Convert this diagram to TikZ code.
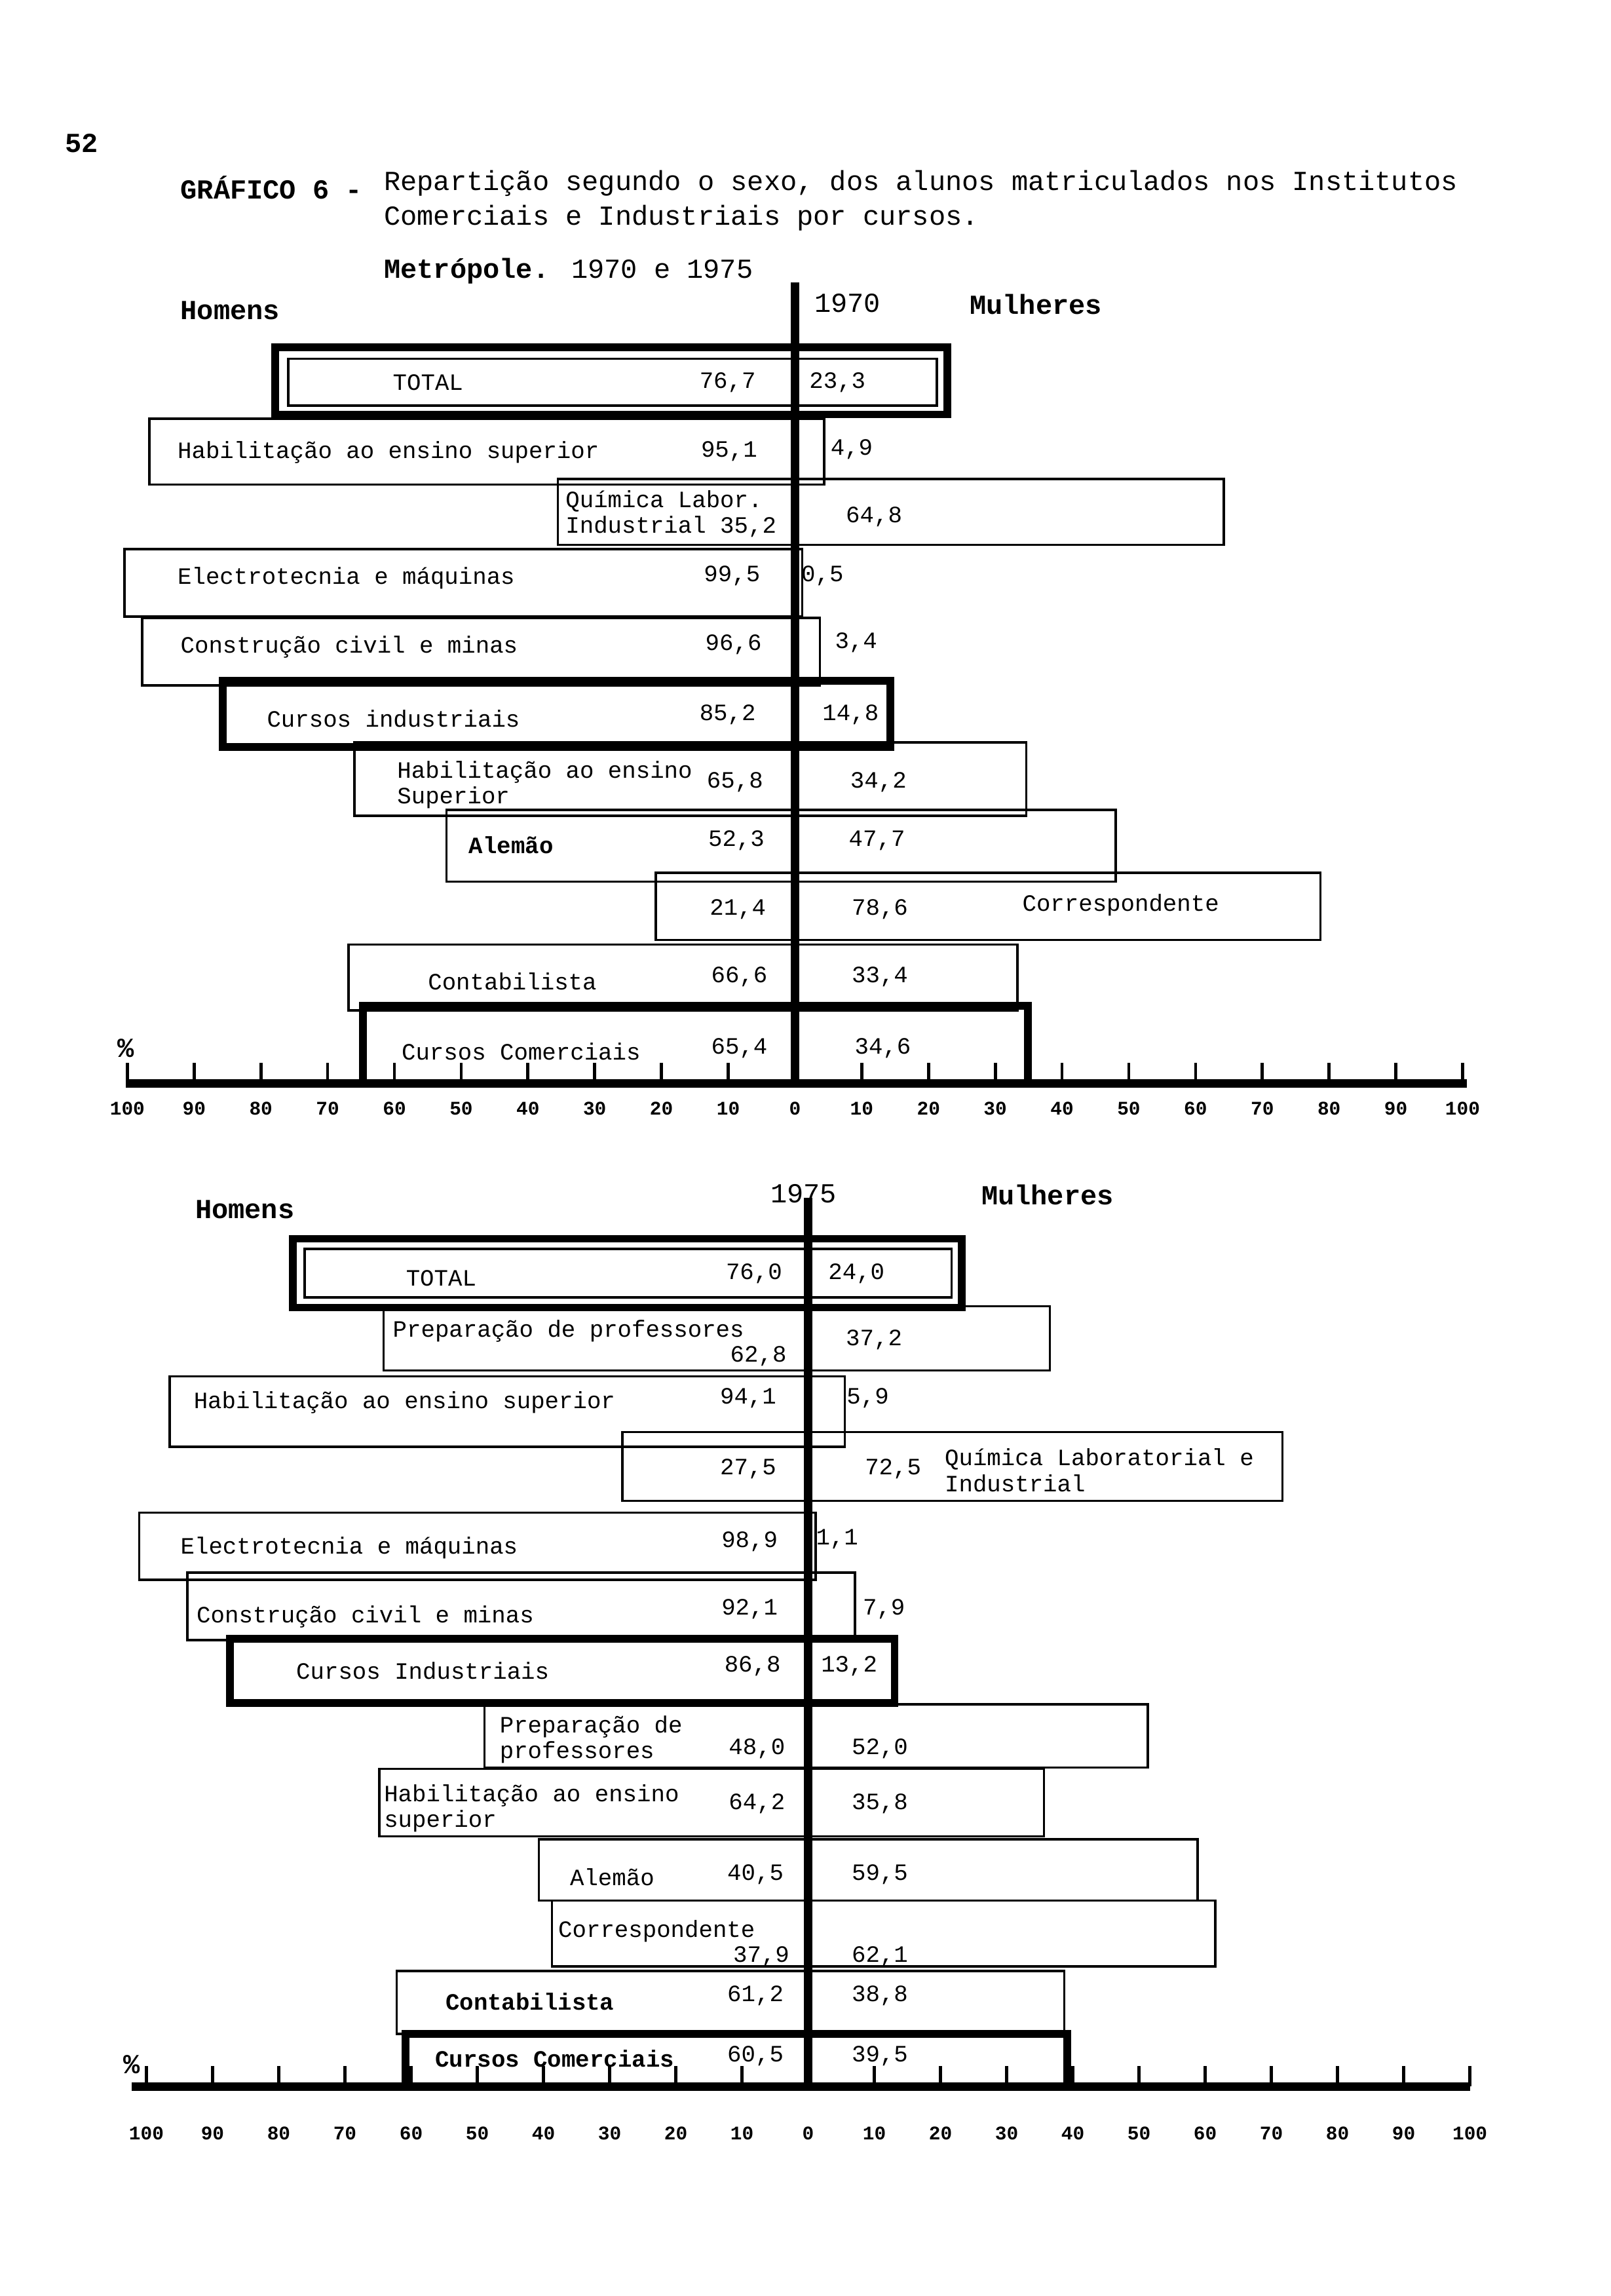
\documentclass[tikz,border=0pt]{standalone}
\usepackage{fontspec}
\setmainfont{Liberation Mono}
\begin{document}
\begin{tikzpicture}[x=0.02cm,y=-0.02cm,
  lbl/.style={font=\fontsize{9.1}{10}\selectfont,inner sep=0pt,anchor=west,align=left},
  val/.style={font=\fontsize{9.1}{10}\selectfont,inner sep=0pt},
  ttl/.style={font=\fontsize{10.7}{12}\selectfont,inner sep=0pt,anchor=west},
  hdr/.style={font=\bfseries\fontsize{10.7}{12}\selectfont,inner sep=0pt,anchor=west},
  bx/.style={draw,line width=0.9pt},
  tbx/.style={draw,line width=3pt},
  ax/.style={line width=3.4pt},
  tick/.style={line width=1.2pt},
  num/.style={font=\bfseries\fontsize{7.5}{8}\selectfont,inner sep=0pt}]
\useasboundingbox (0,0) rectangle (1100,1568);
\fill[white] (0,0) rectangle (1100,1568);
% header
\node[hdr] (pg) at (44,98) {52};
\node[hdr] (g6) at (123,128) {GRÁFICO 6 -};
\node[ttl] (t1) at (262,125) {Repartição segundo o sexo, dos alunos matriculados nos Institutos};
\node[ttl] (t2) at (262,149) {Comerciais e Industriais por cursos.};
\node[ttl] (t3) at (262,185) {\textbf{Metrópole.} 1970 e 1975};
% ===== 1970 =====
\node[hdr] (h1) at (123,212) {Homens};
\node[ttl] (y1) at (556,207) {1970};
\node[hdr] (m1) at (662,208) {Mulheres};
\foreach \xl/\xr/\yt/\yb/\st in {102/563/286/331/bx,381/836/327/372/bx,85/548/375/421/bx,97/560/422/468/bx,242/701/507/557/bx,305/762/553/602/bx,448/902/596/642/bx,238/695/645/690/bx}
  \draw[\st] (\xl,\yt) rectangle (\xr,\yb);
\draw[tbx] (188,237) rectangle (647,283);
\draw[bx] (197,245) rectangle (640,277);
\draw[tbx] (152,465) rectangle (608,510);
\draw[tbx] (248,687) rectangle (702,740);
\draw[ax] (543,193) -- (543,740);
\draw[ax] (86,740) -- (1002,740);
\foreach \i in {-10,...,10} {
  \ifnum\i=0\else
  \draw[tick] ({543+45.6*\i},740) -- ({543+45.6*\i},726);\fi
}
\foreach \v [count=\k from 0] in {100,90,80,70,60,50,40,30,20,10,0,10,20,30,40,50,60,70,80,90,100}
  \node[num] (a\k) at ({543+45.6*(\k-10)},757) {\v};
\node[hdr] (pc1) at (80,716) {\%};
% labels 1970
\node[lbl] (l1) at (268,261) {TOTAL};
\node[val] (v1a) at (497,261) {76,7};
\node[val] (v1b) at (572,261) {23,3};
\node[lbl] (l2) at (121,309) {Habilitação ao ensino superior};
\node[val] (v2a) at (498,308) {95,1};
\node[lbl] (v2b) at (567,307) {4,9};
\node[lbl] (l3) at (386,351) {Química Labor.\\Industrial 35,2};
\node[val] (v3b) at (597,353) {64,8};
\node[lbl] (l4) at (121,395) {Electrotecnia e máquinas};
\node[val] (v4a) at (500,393) {99,5};
\node[lbl] (v4b) at (547,393) {0,5};
\node[lbl] (l5) at (123,442) {Construção civil e minas};
\node[val] (v5a) at (501,440) {96,6};
\node[lbl] (v5b) at (570,439) {3,4};
\node[lbl] (l6) at (182,491) {Cursos industriais};
\node[val] (v6a) at (497,488) {85,2};
\node[val] (v6b) at (581,488) {14,8};
\node[lbl] (l7) at (271,536) {Habilitação ao ensino\\Superior};
\node[val] (v7a) at (502,534) {65,8};
\node[val] (v7b) at (600,534) {34,2};
\node[lbl] (l8) at (320,577) {\textbf{Alemão}};
\node[val] (v8a) at (503,574) {52,3};
\node[val] (v8b) at (599,574) {47,7};
\node[val] (v9a) at (504,621) {21,4};
\node[val] (v9b) at (601,621) {78,6};
\node[lbl] (l9) at (698,618) {Correspondente};
\node[lbl] (l10) at (292,670) {Contabilista};
\node[val] (v10a) at (505,667) {66,6};
\node[val] (v10b) at (601,667) {33,4};
\node[lbl] (l11) at (274,718) {Cursos Comerciais};
\node[val] (v11a) at (505,716) {65,4};
\node[val] (v11b) at (603,716) {34,6};
% ===== 1975 =====
\node[hdr] (h2) at (133,826) {Homens};
\node[ttl] (y2) at (526,815) {1975};
\node[hdr] (m2) at (670,816) {Mulheres};
\foreach \xl/\xr/\yt/\yb in {262/717/892/936,116/577/940/988,425/876/978/1025,95/557/1033/1079,128/584/1074/1120,331/784/1164/1207,259/713/1208/1254,368/818/1256/1298,377/830/1298/1343,271/727/1346/1389}
  \draw[bx] (\xl,\yt) rectangle (\xr,\yb);
\draw[tbx] (200,846) rectangle (657,893);
\draw[bx] (208,853) rectangle (650,886);
\draw[tbx] (157,1119) rectangle (611,1163);
\draw[tbx] (277,1389) rectangle (729,1425);
\draw[ax] (552,818) -- (552,1425);
\draw[ax] (90,1425) -- (1004,1425);
\foreach \i in {-10,...,10} {
  \ifnum\i=0\else
  \draw[tick] ({552+45.2*\i},1425) -- ({552+45.2*\i},1411);\fi
}
\foreach \v [count=\k from 0] in {100,90,80,70,60,50,40,30,20,10,0,10,20,30,40,50,60,70,80,90,100}
  \node[num] (b\k) at ({552+45.2*(\k-10)},1457) {\v};
\node[hdr] (pc2) at (84,1410) {\%};
% labels 1975
\node[lbl] (k1) at (277,873) {TOTAL};
\node[val] (w1a) at (515,870) {76,0};
\node[val] (w1b) at (585,870) {24,0};
\node[lbl] (k2) at (268,909) {Preparação de professores};
\node[val] (w2a) at (518,926) {62,8};
\node[val] (w2b) at (597,915) {37,2};
\node[lbl] (k3) at (132,958) {Habilitação ao ensino superior};
\node[val] (w3a) at (511,955) {94,1};
\node[lbl] (w3b) at (578,955) {5,9};
\node[val] (w4a) at (511,1003) {27,5};
\node[val] (w4b) at (610,1003) {72,5};
\node[lbl] (k4) at (645,1004) {Química Laboratorial e\\Industrial};
\node[lbl] (k5) at (123,1057) {Electrotecnia e máquinas};
\node[val] (w5a) at (512,1053) {98,9};
\node[lbl] (w5b) at (557,1051) {1,1};
\node[lbl] (k6) at (134,1104) {Construção civil e minas};
\node[val] (w6a) at (512,1099) {92,1};
\node[lbl] (w6b) at (589,1099) {7,9};
\node[lbl] (k7) at (202,1141) {Cursos Industriais};
\node[val] (w7a) at (514,1138) {86,8};
\node[val] (w7b) at (580,1138) {13,2};
\node[lbl] (k8) at (341,1188) {Preparação de\\professores};
\node[val] (w8a) at (517,1194) {48,0};
\node[val] (w8b) at (601,1194) {52,0};
\node[lbl] (k9) at (262,1235) {Habilitação ao ensino\\superior};
\node[val] (w9a) at (517,1232) {64,2};
\node[val] (w9b) at (601,1232) {35,8};
\node[lbl] (k10) at (389,1282) {Alemão};
\node[val] (w10a) at (516,1280) {40,5};
\node[val] (w10b) at (601,1280) {59,5};
\node[lbl] (k11) at (381,1319) {Correspondente};
\node[val] (w11a) at (520,1336) {37,9};
\node[val] (w11b) at (601,1336) {62,1};
\node[lbl] (k12) at (304,1367) {\textbf{Contabilista}};
\node[val] (w12a) at (516,1363) {61,2};
\node[val] (w12b) at (601,1363) {38,8};
\node[lbl] (k13) at (297,1406) {\textbf{Cursos Comerciais}};
\node[val] (w13a) at (516,1404) {60,5};
\node[val] (w13b) at (601,1404) {39,5};
\end{tikzpicture}
\end{document}
